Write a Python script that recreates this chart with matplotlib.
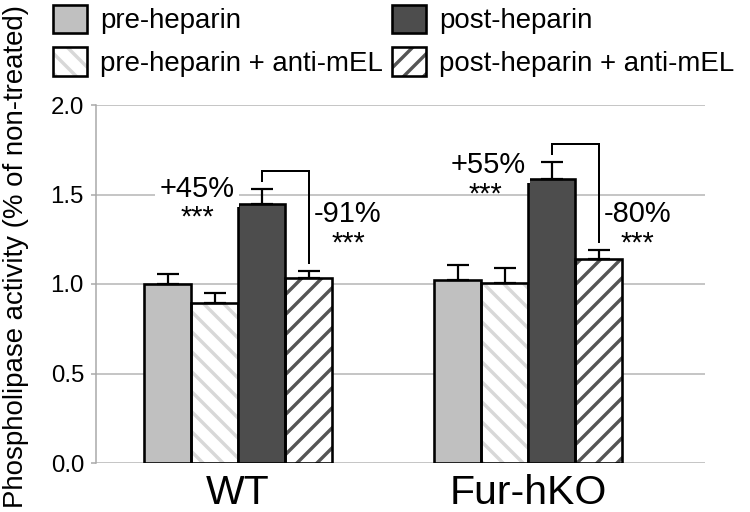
import matplotlib
matplotlib.use("Agg")
import matplotlib.pyplot as plt
from matplotlib.patches import Patch

# ---------------- data ----------------
groups = ["WT", "Fur-hKO"]
series = ["pre-heparin", "pre-heparin + anti-mEL", "post-heparin", "post-heparin + anti-mEL"]
pre_heparin = [1.00, 1.02]
pre_heparin_err = [0.054, 0.085]
pre_anti = [0.892, 1.007]
pre_anti_err = [0.056, 0.084]
post_heparin = [1.445, 1.585]
post_heparin_err = [0.084, 0.095]
post_anti = [1.032, 1.138]
post_anti_err = [0.041, 0.052]
increase_labels = ["+45%", "+55%"]
decrease_labels = ["-91%", "-80%"]
yticks = [0.0, 0.5, 1.0, 1.5, 2.0]
ylabel = "Phospholipase activity (% of non-treated)"

FONT = "Liberation Sans"

DPI = 120
def px(v):
    return v * 72.0 / DPI

plt.rcParams["hatch.linewidth"] = px(3.4)

fig = plt.figure(figsize=(750 / DPI, 512 / DPI), dpi=DPI)
ax = fig.add_axes([96 / 750, 1 - 463 / 512, (705 - 96) / 750, (463 - 105) / 512])

w = 0.162
x0 = [0, 1]
vals = [pre_heparin, pre_anti, post_heparin, post_anti]
errs = [pre_heparin_err, pre_anti_err, post_heparin_err, post_anti_err]
faces = ["#c0c0c0", "white", "#4d4d4d", "white"]
hatches = [None, "\\\\", None, "//"]
hcols = [None, "#d8d8d8", None, "#555555"]
offs = [-1.5, -0.5, 0.5, 1.5]

handles = []
for i in range(4):
    xs = [g + offs[i] * w for g in x0]
    if hatches[i]:
        ax.bar(xs, vals[i], w, color="white", edgecolor=hcols[i], hatch=hatches[i], linewidth=0, zorder=2)
        ax.bar(xs, vals[i], w, fill=False, edgecolor="black", linewidth=px(2.6), zorder=3)
        h = (Patch(facecolor="white", edgecolor=hcols[i], hatch=hatches[i], linewidth=0),
             Patch(fill=False, edgecolor="black", linewidth=px(2.6)))
    else:
        ax.bar(xs, vals[i], w, color=faces[i], edgecolor="black", linewidth=px(2.6), zorder=3)
        h = Patch(facecolor=faces[i], edgecolor="black", linewidth=px(2.6))
    handles.append(h)
    ax.errorbar(xs, vals[i], yerr=[[0, 0], errs[i]], fmt="none", ecolor="black",
                elinewidth=px(2.2), capsize=px(11), capthick=px(2.2), zorder=4)

# brackets between post-heparin and post-heparin + anti-mEL
gap, rise = 0.045, 0.056
for j, g in enumerate(x0):
    xl = g + 0.5 * w
    xr = g + 1.5 * w
    yl = post_heparin[j] + post_heparin_err[j] + gap
    ytop = yl + rise
    yr = post_anti[j] + post_anti_err[j] + gap
    ax.plot([xl, xl, xr, xr], [yl, ytop, ytop, yr], color="black", lw=px(2.0), zorder=4,
            solid_joinstyle="miter")

# annotations
fs_ann = px(29)
inc_pos = [(-0.141, 1.486, -0.141, 1.325), (-0.138, 1.62, -0.148, 1.455)]
dec_pos = [(0.376, 1.346, 0.379, 1.18), (0.376, 1.346, 0.376, 1.18)]
for j, g in enumerate(x0):
    xa, ya, xs_, ys_ = inc_pos[j]
    ax.text(g + xa, ya, increase_labels[j], ha="center", va="baseline", fontsize=fs_ann,
            family=FONT, zorder=5,
            bbox=dict(boxstyle="square,pad=0.15", facecolor="white", edgecolor="none"))
    ax.text(g + xs_, ys_, "***", ha="center", va="baseline", fontsize=fs_ann, family=FONT, zorder=5)
    xa, ya, xs_, ys_ = dec_pos[j]
    ax.text(g + xa, ya, decrease_labels[j], ha="center", va="baseline", fontsize=fs_ann,
            family=FONT, zorder=5)
    ax.text(g + xs_, ys_, "***", ha="center", va="baseline", fontsize=fs_ann, family=FONT, zorder=5)

# axes styling
ax.set_xlim(-0.4897, 1.610)
ax.set_ylim(0, 2.0)
ax.set_yticks(yticks)
ax.set_yticklabels([f"{t:.1f}" for t in yticks], family=FONT, fontsize=px(24))
ax.set_xticks(x0)
ax.set_xticklabels(groups, family=FONT, fontsize=px(41))
ax.tick_params(axis="x", length=0, pad=px(11))
ax.tick_params(axis="y", length=px(5), width=px(1.5), color="#a8a8a8", pad=px(7))
ax.grid(axis="y", color="#b8b8b8", linewidth=px(1.6), zorder=0)
ax.set_axisbelow(True)
for s in ["top", "right", "bottom"]:
    ax.spines[s].set_visible(False)
ax.spines["left"].set_color("#a8a8a8")
ax.spines["left"].set_linewidth(px(1.5))

fig.text(16 / 750, 1 - 256 / 512, ylabel, rotation=90, ha="center", va="center",
         family=FONT, fontsize=px(27.6))

fsl = 27.6
leg = fig.legend(handles, series, loc="upper left", bbox_to_anchor=(53 / 750, 1 - 5 / 512),
                 ncol=2, frameon=False, prop=dict(family=FONT, size=px(fsl)),
                 handlelength=34 / fsl, handleheight=33 / fsl, handletextpad=13 / fsl,
                 columnspacing=9 / fsl, labelspacing=13 / fsl, borderpad=0, borderaxespad=0)

fig.savefig("out.png", dpi=DPI)
